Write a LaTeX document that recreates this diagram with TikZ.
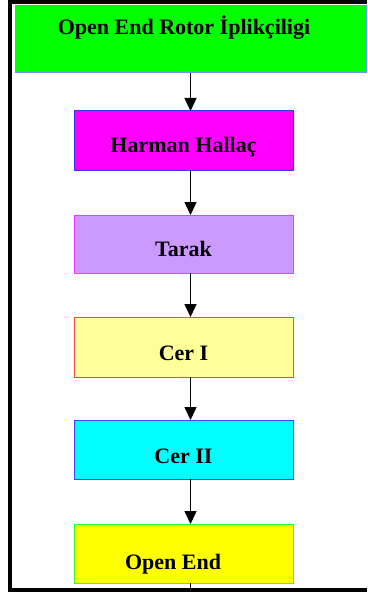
\documentclass[tikz,border=0pt]{standalone}
\usepackage{fontspec}
\setmainfont{Liberation Serif}
\usetikzlibrary{arrows.meta}
\definecolor{cGreen}{HTML}{00FF00}
\definecolor{bGreen}{HTML}{6699FF}
\definecolor{cMag}{HTML}{FF00FF}
\definecolor{bMag}{HTML}{3333FF}
\definecolor{cLil}{HTML}{CC99FF}
\definecolor{bLil}{HTML}{FF33FF}
\definecolor{cPale}{HTML}{FFFF99}
\definecolor{bPale}{HTML}{FF4444}
\definecolor{cCyan}{HTML}{00FFFF}
\definecolor{bCyan}{HTML}{4444FF}
\definecolor{cYel}{HTML}{FFFF00}
\definecolor{bYel}{HTML}{33FF33}
\tikzset{
  stagebox/.style={rectangle, inner sep=0pt, outer sep=0pt, line width=1pt,
    minimum width=219pt, minimum height=59pt},
  lbl/.style={anchor=base, inner sep=0pt, font=\fontsize{22}{26}\selectfont\bfseries},
  arr/.style={line width=1.5pt, -{Triangle[width=12pt,length=13pt]}},
  frame/.style={fill=black, draw=none}
}
\begin{document}
\begin{tikzpicture}[x=1pt,y=-1pt]
\useasboundingbox (0,0) rectangle (367,596);
\fill[white] (0,0) rectangle (367,596);
% frame
\fill[frame] (8,0) rectangle (367,4);
\fill[frame] (8,0) rectangle (12,592);
\fill[frame] (8,588) rectangle (367,592);
% boxes
\node[stagebox, fill=cGreen, draw=bGreen, minimum width=351pt, minimum height=67pt] (a) at (190.5,39.5) {};
\node[stagebox, fill=cMag, draw=bMag] (b) at (183.5,140.5) {};
\node[stagebox, fill=cLil, draw=bLil, minimum height=58pt] (c) at (183.5,244) {};
\node[stagebox, fill=cPale, draw=bPale, minimum height=60pt] (d) at (183.5,347) {};
\node[stagebox, fill=cCyan, draw=bCyan] (e) at (183.5,449.5) {};
\node[stagebox, fill=cYel, draw=bYel] (f) at (183.5,553.5) {};
% labels
\node[lbl] (ta) at (184,35) {Open End Rotor İplikçiligi};
\node[lbl] (tb) at (183.5,153) {Harman Hallaç};
\node[lbl] (tc) at (183.5,256) {Tarak};
\node[lbl] (td) at (183.5,360) {Cer I};
\node[lbl] (te) at (183.5,463) {Cer II};
\node[lbl] (tf) at (173,569) {Open End};
% connectors
\coordinate (fend) at (190.5,588);
\draw[arr] (a.south) -- (b.north -| a.south);
\draw[arr] (b.south -| a.south) -- (c.north -| a.south);
\draw[arr] (c.south -| a.south) -- (d.north -| a.south);
\draw[arr] (d.south -| a.south) -- (e.north -| a.south);
\draw[arr] (e.south -| a.south) -- (f.north -| a.south);
\draw[line width=1.5pt] (f.south -| a.south) -- (fend);
\end{tikzpicture}
\end{document}
